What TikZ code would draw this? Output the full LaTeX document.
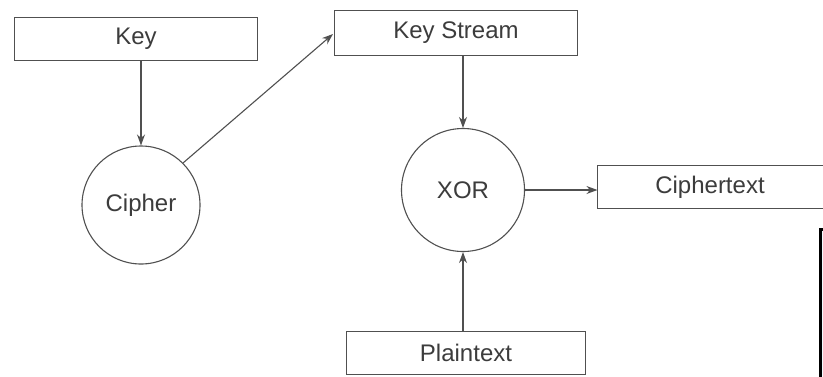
\documentclass[tikz,border=0pt]{standalone}
\usepackage{fontspec}
\setmainfont{Liberation Sans}
\usetikzlibrary{arrows.meta}
\definecolor{ink}{HTML}{505050}
\definecolor{txt}{HTML}{3C3C3C}
\tikzset{
  labelbox/.style={draw=ink, line width=1.1pt, minimum height=43pt, inner sep=0pt,
    text=txt, font=\fontsize{24}{28}\selectfont},
  roundel/.style={draw=ink, line width=1.1pt, circle, inner sep=0pt,
    text=txt, font=\fontsize{24}{28}\selectfont},
  flow/.style={draw=ink, line width=1.1pt, -{Stealth[length=11pt,width=8pt]}}
}
\begin{document}
\begin{tikzpicture}[x=1pt,y=-1pt]
\useasboundingbox (0,0) rectangle (823,376);
\fill[white] (0,0) rectangle (823,376);

% boxes
\node[labelbox, minimum width=243pt] (key) at (136,39) {Key};
\node[labelbox, minimum width=243pt, minimum height=45pt] (ks) at (456,33) {Key Stream};
\node[labelbox, draw=none, minimum width=224pt, minimum height=42pt] (ct) at (710,187) {Ciphertext};
\draw[ink, line width=1.1pt] ([xshift=40pt]ct.north east) -- (ct.north west)
  -- (ct.south west) -- ([xshift=40pt]ct.south east);
\node[labelbox, minimum width=239pt] (pt) at (466,353) {Plaintext};

% circles
\node[roundel, minimum size=118pt] (cipher) at (141,205) {Cipher};
\node[roundel, minimum size=123pt] (xor) at (463,190) {XOR};

% connectors
\coordinate (ksin) at (333,34);
\draw[flow] (key.south -| cipher.north) -- (cipher.north);
\draw[flow] (cipher.45) -- (ksin);
\draw[flow] (ks.south -| xor.north) -- (xor.north);
\draw[flow] (xor.east) -- (xor.east -| ct.west);
\draw[flow] (pt.north -| xor.south) -- (xor.south);

% corner of a framed panel at the lower right
\fill[cyan!6] (820,229) rectangle (823,376);
\draw[black, line width=3pt] (820,377) -- (820,229) -- (824,229);
\end{tikzpicture}
\end{document}
